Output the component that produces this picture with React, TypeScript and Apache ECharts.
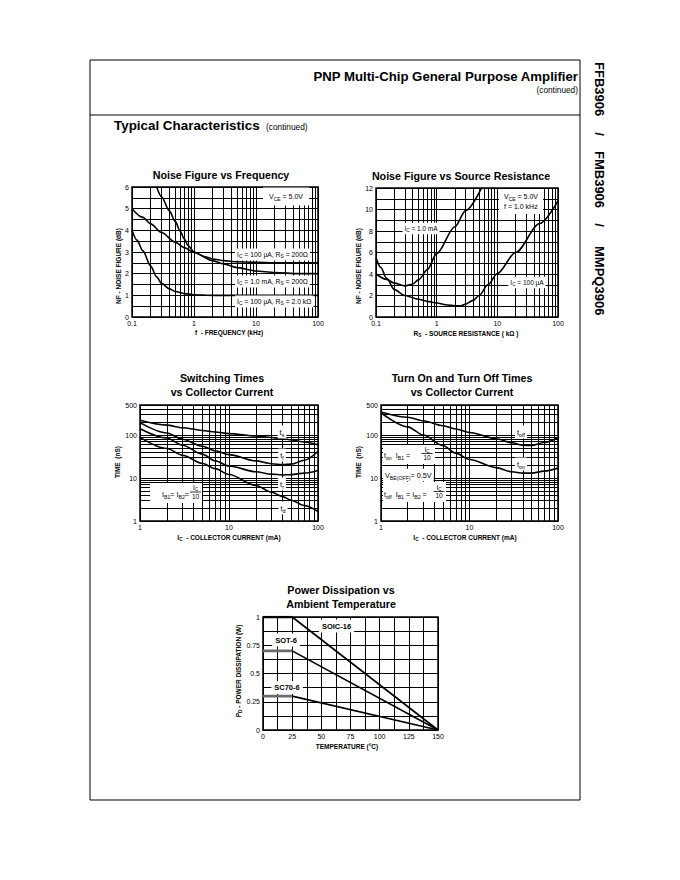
import React, { useEffect, useRef } from "react";
import * as echarts from "echarts";

const FONT = '"Liberation Sans", Arial, Helvetica, sans-serif';

// ---------- Noise Figure vs Frequency (VCE = 5.0 V) ----------
const freqRange = [0.1, 100];
const nfFreqRange = [0, 6];
const freqIc100uRs200 = [0.25, 0.3, 0.4, 0.5, 0.6, 0.7, 0.8, 1, 1.5, 2, 3, 5, 10, 20, 100];
const nfIc100uRs200 = [6.0, 5.55, 4.9, 4.4, 3.95, 3.6, 3.3, 3.0, 2.78, 2.68, 2.6, 2.55, 2.52, 2.5, 2.5];
const freqIc1mRs200 = [0.1, 0.15, 0.2, 0.3, 0.5, 0.7, 1, 2, 3, 5, 10, 20, 50, 100];
const nfIc1mRs200 = [5.0, 4.6, 4.3, 3.9, 3.45, 3.2, 2.98, 2.6, 2.45, 2.28, 2.12, 2.05, 2.0, 2.0];
const freqIc100uRs2k = [0.1, 0.12, 0.15, 0.2, 0.25, 0.3, 0.4, 0.5, 0.7, 1, 2, 100];
const nfIc100uRs2k = [4.0, 3.55, 3.05, 2.35, 1.85, 1.55, 1.3, 1.18, 1.08, 1.03, 1.0, 1.0];

// ---------- Noise Figure vs Source Resistance (VCE = 5.0 V, f = 1.0 kHz) ----------
const rsRange = [0.1, 100];
const nfRsRange = [0, 12];
const rsIc1m = [0.1, 0.15, 0.2, 0.3, 0.4, 0.5, 0.7, 1, 2, 3, 5.5];
const nfRsIc1m = [4.0, 3.5, 3.15, 2.9, 3.05, 3.45, 4.4, 5.9, 8.4, 9.9, 12];
const rsIc100u = [0.1, 0.12, 0.15, 0.2, 0.3, 0.5, 0.7, 1, 1.5, 2, 2.5, 3, 4, 5, 7, 10, 20, 50, 100];
const nfRsIc100u = [5.5, 4.6, 3.6, 2.55, 2.0, 1.65, 1.45, 1.3, 1.12, 1.05, 1.05, 1.2, 1.55, 2.0, 3.0, 4.05, 6.0, 8.7, 10.8];

// ---------- Switching Times vs Collector Current ----------
const icRange = [1, 100];
const timeRange = [1, 500];
const icSw = [1, 2, 3, 5, 7, 10, 20, 30, 40, 50, 70, 100];
const tsNs = [220, 170, 148, 128, 118, 108, 95, 88, 82, 77, 69, 59];
const tfNs = [195, 112, 80, 55, 43, 35, 25, 21.5, 20.5, 21, 26, 42];
const trNs = [140, 85, 58, 36, 25, 19, 14, 12.3, 11.8, 12, 13, 15];
const tdNs = [88, 48.5, 34, 22, 16.5, 12.1, 6.7, 4.7, 3.7, 3.05, 2.3, 1.66];

// ---------- Turn On and Turn Off Times vs Collector Current ----------
const icOnOff = [1, 2, 3, 5, 7, 10, 20, 30, 40, 50, 70, 100];
const toffNs = [345, 260, 215, 165, 138, 115, 82, 66, 58, 57, 67, 88];
const tonNs = [330, 155, 100, 57, 38, 27, 17.5, 14, 13, 13, 14.5, 17];

// ---------- Power Dissipation vs Ambient Temperature ----------
const tempRange = [0, 150];
const pdRange = [0, 1];
const tempPts = [0, 25, 150];
const pdSoic16 = [1.0, 1.0, 0];
const pdSot6 = [0.7, 0.7, 0];
const pdSc706 = [0.3, 0.3, 0];

// ---------- helpers ----------
const blackLine = { color: "#000", width: 1 };
const axisText = { color: "#000", fontFamily: FONT, fontSize: 7 };

function minorLog(from: number, to: number): number[] {
  const out: number[] = [];
  for (let d = from; d < to * 0.999; d *= 10) {
    for (let k = 2; k <= 9; k++) {
      const v = +(k * d).toPrecision(3);
      if (v < to) out.push(v);
    }
  }
  return out;
}

function fmtLog(v: number) {
  return v < 1 ? String(+v.toFixed(1)) : String(Math.round(v));
}

function logAxis(gridIndex: number, range: number[]) {
  return {
    type: "log",
    logBase: 10,
    gridIndex,
    min: range[0],
    max: range[1],
    axisLine: { show: false },
    axisTick: { show: false },
    axisLabel: { ...axisText, margin: 3, formatter: (v: number) => fmtLog(v) },
    splitLine: { show: true, lineStyle: blackLine },
  };
}

function valAxis(gridIndex: number, range: number[], interval: number, minorSplit: boolean) {
  return {
    type: "value",
    gridIndex,
    min: range[0],
    max: range[1],
    interval,
    axisLine: { show: false },
    axisTick: { show: false },
    axisLabel: { ...axisText, margin: 3 },
    splitLine: { show: true, lineStyle: blackLine },
    minorTick: { show: false, splitNumber: 2 },
    minorSplitLine: { show: minorSplit, lineStyle: blackLine },
  };
}

function gridMark(vx: number[], vy: number[]) {
  return {
    silent: true,
    z: 1,
    symbol: ["none", "none"],
    label: { show: false },
    emphasis: { disabled: true },
    lineStyle: { color: "#000", width: 1, type: "solid" },
    data: [...vx.map((v) => ({ xAxis: v })), ...vy.map((v) => ({ yAxis: v }))],
  };
}

function curve(idx: number, xs: number[], ys: number[], extra: any = {}) {
  return {
    type: "line",
    xAxisIndex: idx,
    yAxisIndex: idx,
    data: xs.map((x, i) => [x, ys[i]]),
    symbol: "none",
    smooth: 0.3,
    smoothMonotone: "x",
    silent: true,
    z: 3,
    emphasis: { disabled: true },
    lineStyle: { color: "#000", width: 1.6 },
    itemStyle: { color: "#000" },
    ...extra,
  };
}

function T(x: number, y: number, text: string, o: any = {}) {
  const size = o.size ?? 7;
  const bold = !!o.bold;
  const style: any = {
    text,
    fill: "#000",
    fontFamily: FONT,
    fontSize: size,
    fontWeight: bold ? "bold" : "normal",
    align: o.align ?? "center",
    textAlign: o.align ?? "center",
    verticalAlign: o.valign ?? "middle",
    textVerticalAlign: o.valign ?? "middle",
    lineHeight: o.lh ?? Math.round(size * 14.5) / 10,
    rich: {
      s: {
        fontFamily: FONT,
        fill: "#000",
        color: "#000",
        fontSize: Math.round(size * 7.2) / 10,
        lineHeight: Math.round(size * 7.2) / 10,
        verticalAlign: "bottom",
        fontWeight: bold ? "bold" : "normal",
      },
    },
  };
  if (o.bg) {
    style.backgroundColor = o.bg;
    style.padding = o.pad ?? [1, 2];
  }
  return { type: "text", x, y, rotation: o.rot ?? 0, z: o.z ?? 100, silent: true, style };
}

function R(x: number, y: number, w: number, h: number, fill = "#fff", z = 99) {
  return { type: "rect", z, silent: true, shape: { x, y, width: w, height: h }, style: { fill, stroke: "none" } };
}

function L(x1: number, y1: number, x2: number, y2: number, w = 1, z = 101) {
  return { type: "line", z, silent: true, shape: { x1, y1, x2, y2 }, style: { stroke: "#000", lineWidth: w } };
}

function frac(cx: number, cy: number, num: string, den: string, size = 6.5) {
  return [
    T(cx, cy - 4.4, num, { size }),
    L(cx - 5.5, cy, cx + 5.5, cy, 0.8),
    T(cx, cy + 4.4, den, { size }),
  ];
}

function buildOption() {
  const titleStyle = { fontFamily: FONT, fontSize: 10.7, fontWeight: "bold", color: "#000", lineHeight: 14 };
  const mkTitle = (text: string, cx: number, top: number) => ({
    text,
    left: cx,
    top,
    textAlign: "center",
    textVerticalAlign: "top",
    padding: 0,
    textStyle: titleStyle,
  });

  const grids = [
    { left: 132, top: 187, width: 186, height: 130 },
    { left: 376, top: 188, width: 182, height: 129 },
    { left: 140, top: 405, width: 178, height: 116 },
    { left: 381, top: 405, width: 177, height: 116 },
    { left: 263, top: 617, width: 175, height: 113 },
  ].map((g) => ({ ...g, show: true, borderColor: "#000", borderWidth: 1.5, backgroundColor: "transparent" }));

  const xAxis = [
    logAxis(0, freqRange),
    logAxis(1, rsRange),
    logAxis(2, icRange),
    logAxis(3, icRange),
    valAxis(4, tempRange, 25, true),
  ];
  const yAxis = [
    valAxis(0, nfFreqRange, 1, true),
    valAxis(1, nfRsRange, 2, true),
    logAxis(2, timeRange),
    logAxis(3, timeRange),
    valAxis(4, pdRange, 0.25, true),
  ];

  const series: any[] = [
    // Chart 1
    curve(0, freqIc1mRs200, nfIc1mRs200, { markLine: gridMark(minorLog(0.1, 100), []) }),
    curve(0, freqIc100uRs200, nfIc100uRs200),
    curve(0, freqIc100uRs2k, nfIc100uRs2k),
    // Chart 2
    curve(1, rsIc100u, nfRsIc100u, { markLine: gridMark(minorLog(0.1, 100), []) }),
    curve(1, rsIc1m, nfRsIc1m),
    // Chart 3
    curve(2, icSw, tsNs, { markLine: gridMark(minorLog(1, 100), minorLog(1, 500)) }),
    curve(2, icSw, tfNs),
    curve(2, icSw, trNs),
    curve(2, icSw, tdNs),
    // Chart 4
    curve(3, icOnOff, toffNs, { markLine: gridMark(minorLog(1, 100), minorLog(1, 500)) }),
    curve(3, icOnOff, tonNs),
    // Chart 5 : derating lines (black) and flat segments
    curve(4, tempPts.slice(1), pdSoic16.slice(1), { smooth: false }),
    curve(4, tempPts.slice(1), pdSot6.slice(1), { smooth: false }),
    curve(4, tempPts.slice(1), pdSc706.slice(1), { smooth: false }),
    curve(4, tempPts.slice(0, 2), pdSoic16.slice(0, 2), { smooth: false, lineStyle: { color: "#000", width: 2.4 } }),
    curve(4, tempPts.slice(0, 2), pdSot6.slice(0, 2), { smooth: false, lineStyle: { color: "#6b6b6b", width: 2.6 } }),
    curve(4, tempPts.slice(0, 2), pdSc706.slice(0, 2), { smooth: false, lineStyle: { color: "#6b6b6b", width: 2.6 } }),
  ];

  const ax = { size: 6.5, bold: true };
  const graphic: any[] = [
    // page frame and header
    { type: "rect", z: 100, silent: true, shape: { x: 90, y: 60, width: 490, height: 740 }, style: { fill: "none", stroke: "#000", lineWidth: 1 } },
    L(90, 115, 580, 115, 1),
    T(578, 76, "PNP Multi-Chip General Purpose Amplifier", { size: 13.2, bold: true, align: "right" }),
    T(578, 90, "(continued)", { size: 8.3, align: "right" }),
    T(114, 125, "Typical Characteristics", { size: 13.4, bold: true, align: "left" }),
    T(266, 126.5, "(continued)", { size: 8.3, align: "left" }),
    T(599, 62, "FFB3906", { size: 13, bold: true, align: "left", rot: -Math.PI / 2 }),
    T(599, 134, "/", { size: 13, bold: true, rot: -Math.PI / 2 }),
    T(599, 151, "FMB3906", { size: 13, bold: true, align: "left", rot: -Math.PI / 2 }),
    T(599, 225, "/", { size: 13, bold: true, rot: -Math.PI / 2 }),
    T(599, 246, "MMPQ3906", { size: 13, bold: true, align: "left", rot: -Math.PI / 2 }),

    // axis names
    T(118, 266, "NF - NOISE FIGURE (dB)", { ...ax, rot: Math.PI / 2 }),
    T(229, 332, "f  - FREQUENCY (kHz)", ax),
    T(358, 266, "NF - NOISE FIGURE (dB)", { ...ax, rot: Math.PI / 2 }),
    T(466, 333, "R{s|S}  - SOURCE RESISTANCE ( kΩ )", ax),
    T(117, 462, "TIME  (nS)", { ...ax, rot: Math.PI / 2 }),
    T(229, 537, "I{s|C}  - COLLECTOR CURRENT (mA)", ax),
    T(358, 462, "TIME  (nS)", { ...ax, rot: Math.PI / 2 }),
    T(465, 537, "I{s|C}  - COLLECTOR CURRENT (mA)", ax),
    T(238, 671, "P{s|D} - POWER DISSIPATION (W)", { ...ax, rot: Math.PI / 2 }),
    T(347, 746, "TEMPERATURE (°C)", ax),

    // chart 1 labels
    T(286, 196.5, "V{s|CE} = 5.0V", { size: 7, bg: "#fff", pad: [4, 6] }),
    T(235, 254.5, "I{s|C} = 100 µA, R{s|S} = 200Ω", { size: 6.8, align: "left", bg: "#fff" }),
    T(235, 281.5, "I{s|C} = 1.0 mA, R{s|S} = 200Ω", { size: 6.8, align: "left", bg: "#fff" }),
    T(235, 301.5, "I{s|C} = 100 µA, R{s|S} = 2.0 kΩ", { size: 6.8, align: "left", bg: "#fff" }),

    // chart 2 labels
    T(499, 201.5, "V{s|CE} = 5.0V\nf = 1.0 kHz", { size: 7, align: "left", bg: "#fff", pad: [3, 5], lh: 9.5 }),
    T(421, 228.5, "I{s|C} = 1.0 mA", { size: 6.5, bg: "#fff" }),
    T(527, 282.5, "I{s|C} = 100 µA", { size: 6.5, bg: "#fff" }),

    // chart 3 labels
    T(282, 432, "t{s|s}", { size: 7.5, bg: "#fff" }),
    T(282, 455, "t{s|f}", { size: 7.5, bg: "#fff" }),
    T(282, 484, "t{s|r}", { size: 7.5, bg: "#fff" }),
    T(283, 508, "t{s|d}", { size: 7.5, bg: "#fff" }),
    R(150, 483, 52, 20),
    T(189, 494.5, "I{s|B1}= I{s|B2}=", { size: 7.2, align: "right" }),
    ...frac(195.5, 492, "I{s|C}", "10"),

    // chart 4 labels
    T(521, 432, "t{s|off}", { size: 7.5, bg: "#fff" }),
    T(521, 464, "t{s|on}", { size: 7.5, bg: "#fff" }),
    R(383, 445, 52, 19),
    T(384, 455.5, "t{s|on}  I{s|B1} =", { size: 7.2, align: "left" }),
    ...frac(427, 453.5, "I{s|C}", "10"),
    T(383, 475, "V{s|BE(OFF)}= 0.5V", { size: 7.2, align: "left", bg: "#fff" }),
    R(383, 482, 63, 20),
    T(384, 494, "t{s|off}  I{s|B1} = I{s|B2} =", { size: 7.2, align: "left" }),
    ...frac(439, 491.5, "I{s|C}", "10"),

    // chart 5 labels
    T(336.5, 626, "SOIC-16", { size: 7.5, bold: true, bg: "#fff", pad: [1, 3] }),
    T(286, 640, "SOT-6", { size: 7.5, bold: true, bg: "#fff", pad: [1, 3] }),
    T(287, 687.5, "SC70-6", { size: 7.5, bold: true, bg: "#fff", pad: [1, 3] }),
  ];

  return {
    animation: false,
    backgroundColor: "#fff",
    textStyle: { fontFamily: FONT },
    title: [
      mkTitle("Noise Figure vs Frequency", 221, 167.5),
      mkTitle("Noise Figure vs Source Resistance", 461, 168.5),
      mkTitle("Switching Times\nvs Collector Current", 222, 371),
      mkTitle("Turn On and Turn Off Times\nvs Collector Current", 462, 371),
      mkTitle("Power Dissipation vs\nAmbient Temperature", 341, 583),
    ],
    grid: grids,
    xAxis,
    yAxis,
    series,
    graphic,
  };
}

export default function App() {
  const ref = useRef<HTMLDivElement>(null);
  useEffect(() => {
    if (!ref.current) return;
    const chart = echarts.init(ref.current, null, { renderer: "svg", width: 680, height: 880 });
    chart.setOption(buildOption() as any);
    return () => chart.dispose();
  }, []);
  return (
    <div
      ref={ref}
      style={{ position: "fixed", left: 0, top: 0, width: 680, height: 880, background: "#fff" }}
    />
  );
}
